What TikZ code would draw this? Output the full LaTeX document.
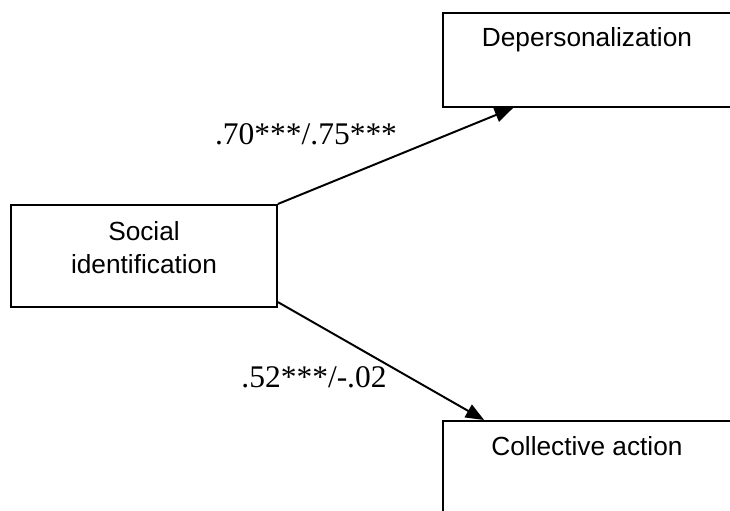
\documentclass[tikz,border=0pt]{standalone}
\usepackage{fontspec}
\setmainfont{Liberation Serif}
\setsansfont{Liberation Sans}
\usetikzlibrary{arrows.meta}
\usetikzlibrary{positioning}
\tikzstyle{box} = [rectangle, draw, line width=0.75pt, inner sep=0pt]
\tikzstyle{boxtext} = [inner sep=0pt, align=center, font=\sffamily\fontsize{10}{12.6}\selectfont]
\tikzstyle{coef} = [inner sep=0pt, font=\fontsize{12}{14}\selectfont]
\tikzstyle{path} = [-{Triangle[length=7pt, width=5.5pt]}, line width=0.75pt]

\begin{document}
\begin{tikzpicture}[x=0.381pt, y=-0.381pt]
   \useasboundingbox (0,0) rectangle (730,511);
   \clip (0,0) rectangle (730,511);
   % Place boxes
   \node [box, minimum width=109.7pt, minimum height=35.8pt] (dep) at (587,60) {};
   \node [box, minimum width=109.7pt, minimum height=35.8pt] (col) at (587,468) {};
   \node [box, minimum width=101.3pt, minimum height=38.9pt] (soc) at (144,256) {};
   % Box texts
   \node [boxtext, anchor=base] (deptext) at (587,47) {Depersonalization};
   \node [boxtext, anchor=base] (coltext) at (587,456) {Collective action};
   \node [boxtext, anchor=north] (soctext) at (144,221) {Social\\identification};

   \draw [path] (soc.north east) -- (dep.213.5);
   \draw [path] (soc.341) -- (col.155);
   \node [coef, anchor=base] (coef1) at (306,145) {.70***/.75***};
   \node [coef, anchor=base] (coef2) at (314,388) {.52***/-.02};
\end{tikzpicture}
\end{document}
